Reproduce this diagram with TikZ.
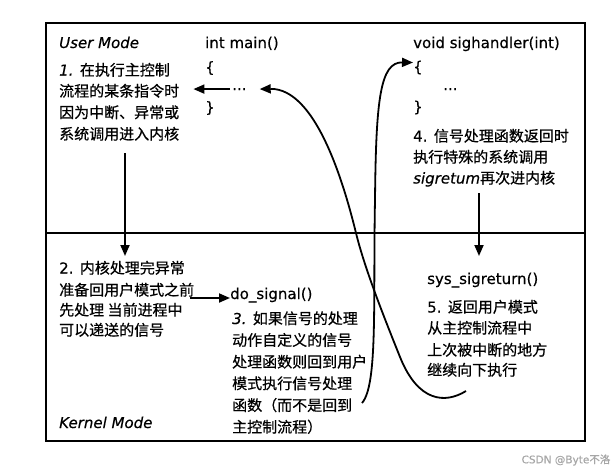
\documentclass[tikz,border=0pt]{standalone}
\usepackage{fontspec}
\setmainfont{DejaVu Sans}[FakeBold=0.4]
\newfontfamily\cjk{Noto Sans CJK SC}[FakeBold=0.6]
\usetikzlibrary{arrows.meta}
\begin{document}
\begin{tikzpicture}[x=1pt,y=-1pt,
  txt/.style={anchor=base west, inner sep=0pt, font=\fontsize{15}{18}\selectfont},
  zh/.style={anchor=base west, inner sep=0pt, font=\fontsize{15}{18}\selectfont\cjk},
  arr/.style={line width=1.8pt, -{Triangle[length=11pt,width=9pt]}},
  frame/.style={line width=2.2pt},
  wmark/.style={anchor=center, inner sep=0pt, font=\fontsize{10.5}{12}\selectfont, text=black!35}]
\useasboundingbox (0,0) rectangle (615,472);
\draw[frame] (46,23) rectangle (585,441);
\draw[frame, line width=2.6pt] (46,233) -- (585,233);

% user mode, left
\node[txt, font=\fontsize{15}{18}\selectfont\itshape] (um) at (59,48) {User Mode};
\node[txt] (main) at (205,48) {int main()};
\node[txt] (mlb) at (205,72.5) {\{};
\node[txt] (mdots) at (232,90) {...};
\node[txt] (mrb) at (205,112.5) {\}};

\node[zh] (t1a) at (59,75.5) {{\rmfamily\itshape 1. }在执行主控制};
\node[zh] (t1b) at (59,96.5) {流程的某条指令时};
\node[zh] (t1c) at (59,118) {因为中断、异常或};
\node[zh] (t1d) at (59,139.5) {系统调用进入内核};

% user mode, right
\node[txt] (sh) at (413,48) {void sighandler(int)};
\node[txt] (slb) at (413,72) {\{};
\node[txt] (sdots) at (443,90) {...};
\node[txt] (srb) at (413,112) {\}};

\node[zh] (t4a) at (413,141.5) {{\rmfamily 4. }信号处理函数返回时};
\node[zh] (t4b) at (413,162.5) {执行特殊的系统调用};
\node[zh] (t4c) at (413,183.5) {{\rmfamily\itshape sigretum}再次进内核};

% kernel mode, left
\node[zh] (t2a) at (59,273.5) {{\rmfamily 2. }内核处理完异常};
\node[zh] (t2b) at (59,295.5) {准备回用户模式之前};
\node[zh] (t2c) at (59,315.5) {先处理 当前进程中};
\node[zh] (t2d) at (59,335.5) {可以递送的信号};
\node[txt, font=\fontsize{15}{18}\selectfont\itshape] (km) at (59,428) {Kernel Mode};

% kernel mode, middle
\node[txt] (dosig) at (230,299) {do\_signal()};
\node[zh] (t3a) at (232,324) {{\rmfamily\itshape 3. }如果信号的处理};
\node[zh] (t3b) at (232,345.7) {动作自定义的信号};
\node[zh] (t3c) at (232,367.4) {处理函数则回到用户};
\node[zh] (t3d) at (232,389) {模式执行信号处理};
\node[zh] (t3e) at (232,410.8) {函数（而不是回到};
\node[zh] (t3f) at (232,432.5) {主控制流程）};

% kernel mode, right
\node[txt] (sys) at (427,284) {sys\_sigreturn()};
\node[zh] (t5a) at (427,312.5) {{\rmfamily 5. }返回用户模式};
\node[zh] (t5b) at (427,333.5) {从主控制流程中};
\node[zh] (t5c) at (427,355.5) {上次被中断的地方};
\node[zh] (t5d) at (427,375.5) {继续向下执行};

\node[wmark] (wm) at (566,460) {CSDN @Byte{\cjk 不洛}};

% connectors
\coordinate (a1s) at (125,153);
\coordinate (a1e) at (125,256);
\coordinate (a2s) at (190,298);
\coordinate (a4s) at (479,193);
\coordinate (a4e) at (479,256);
\coordinate (cAs) at (466,391);
\coordinate (cBs) at (362,403);

\draw[arr] ([xshift=-2pt]mdots.west) -- ([xshift=14pt]mdots.west -| t1b.east);
\draw[arr] (a1s) -- (a1e);
\draw[arr] (a2s) -- (a2s -| dosig.west);
\draw[arr] (a4s) -- (a4e);
\draw[arr] (cAs) .. controls (445,404) and (418,402) .. (400,357)
  .. controls (386,322) and (365,270) .. (356,233)
  .. controls (343,180) and (315,88) .. ([xshift=13pt]mdots.east);
\draw[arr] (cBs) .. controls (378,385) and (373,300) .. (375,200)
  .. controls (376,100) and (380,62) .. ([yshift=5pt]slb.west);
\end{tikzpicture}
\end{document}
